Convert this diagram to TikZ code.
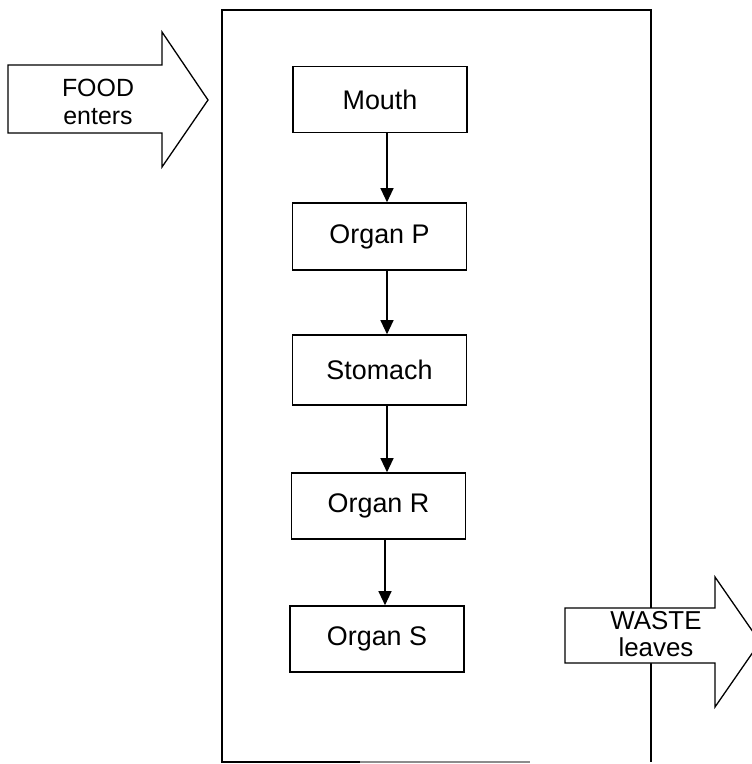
\documentclass[tikz,border=0pt]{standalone}
\usepackage{fontspec}
\setmainfont{Liberation Sans}
\usetikzlibrary{arrows.meta}
\begin{document}
\begin{tikzpicture}[x=1bp,y=-1bp,
  organ/.style={draw=black, line width=1.6bp, minimum width=174bp, minimum height=66bp,
    inner sep=0pt, font=\fontsize{27}{30}\selectfont},
  arr/.style={line width=1.2bp, -{Triangle[length=14bp,width=13bp]}},
  bigarrow/.style={draw=black, line width=1.3bp, fill=white, line join=miter},
  lbl/.style={align=center, inner sep=0pt, font=\fontsize{25}{28}\selectfont}]
\useasboundingbox (0,0) rectangle (752,764);
% outer frame
\draw[line width=1.8bp] (360,762) -- (222,762) -- (222,10) -- (651,10) -- (651,762);
\draw[line width=1.2bp, black!45] (360,762) -- (530,762);
% organ boxes
\node[organ] (mouth) at (380,99.5) {Mouth};
\node[organ, minimum height=67bp] (orgp) at (379.5,236.5) {Organ P};
\node[organ, minimum height=70bp] (stomach) at (379.5,370) {Stomach};
\node[organ] (orgr) at (378.5,506) {Organ R};
\node[organ] (orgs) at (377,639) {Organ S};
\coordinate (ax) at (387,0);
\draw[arr] (mouth.south -| ax) -- (orgp.north -| ax);
\draw[arr] (orgp.south -| ax) -- (stomach.north -| ax);
\draw[arr] (stomach.south -| ax) -- (orgr.north -| ax);
\coordinate (ax2) at (385,0);
\draw[arr] (orgr.south -| ax2) -- (orgs.north -| ax2);
% FOOD arrow
\draw[bigarrow] (8,65) -- (162,65) -- (162,32) -- (208,100) -- (162,167) -- (162,133) -- (8,133) -- cycle;
\node[lbl] (food) at (98,102) {FOOD\\enters};
% WASTE arrow
\begin{scope}
\clip (0,0) rectangle (752,764);
\draw[bigarrow] (565,608) -- (715,608) -- (715,577) -- (760,642) -- (715,707) -- (715,663) -- (565,663) -- cycle;
\end{scope}
\node[lbl, font=\fontsize{26}{27}\selectfont] (waste) at (656,634) {WASTE\\leaves};
\end{tikzpicture}
\end{document}
